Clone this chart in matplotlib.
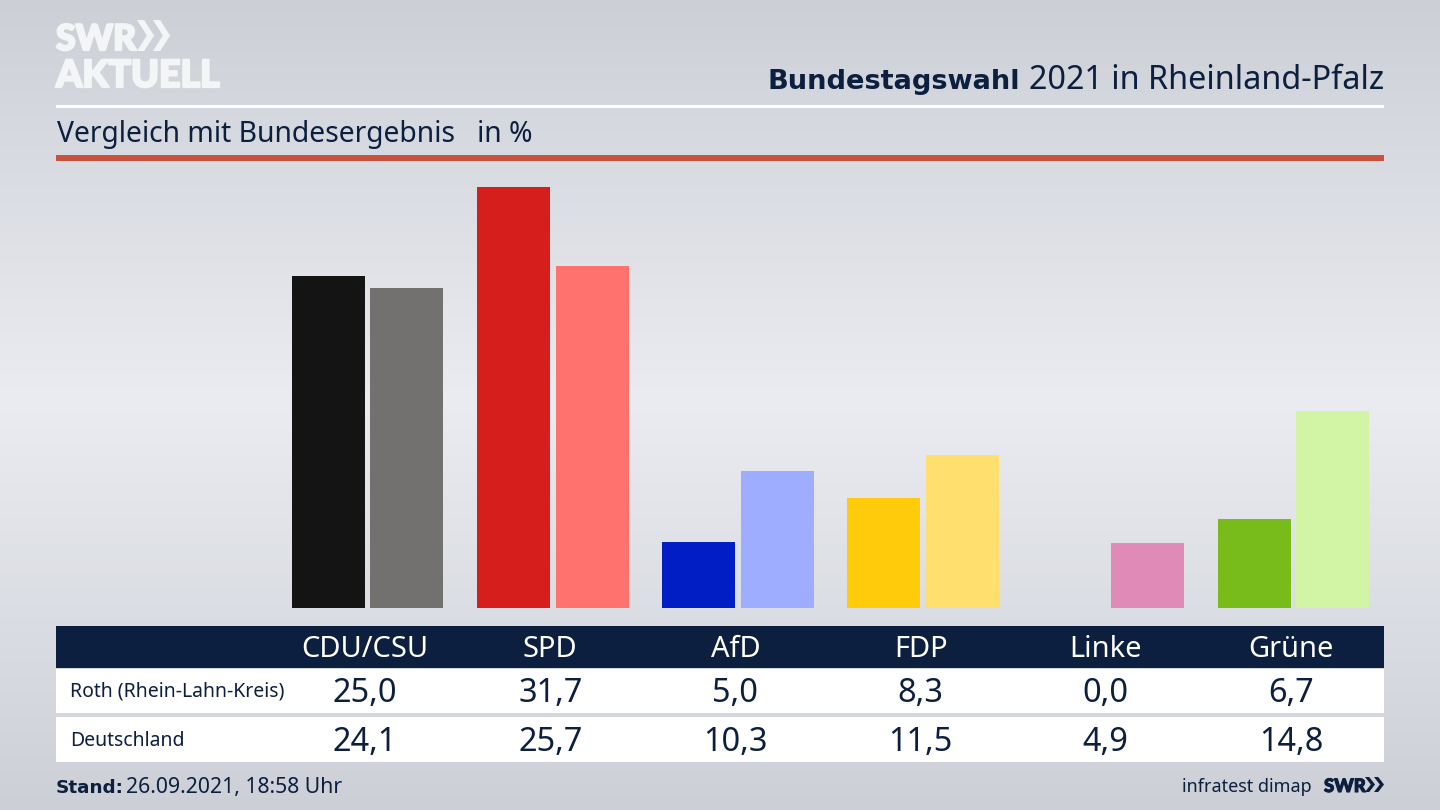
import matplotlib
matplotlib.use('Agg')
import matplotlib.pyplot as plt
import matplotlib.patheffects as pe
import numpy as np
from matplotlib.patches import Polygon, Rectangle

plt.rcParams['font.family'] = ['Noto Sans', 'DejaVu Sans']

parties = ['CDU/CSU', 'SPD', 'AfD', 'FDP', 'Linke', 'Grüne']
roth = [25.0, 31.7, 5.0, 8.3, 0.0, 6.7]
deutschland = [24.1, 25.7, 10.3, 11.5, 4.9, 14.8]
colors_roth = ['#141414', '#d61e1c', '#001ec3', '#ffcb0b', '#c9438f', '#78bc1b']
colors_de = ['#72716f', '#ff726e', '#9eadff', '#ffe06e', '#e08ab8', '#d2f5a5']
row_labels = ['Roth (Rhein-Lahn-Kreis)', 'Deutschland']

NAVY = '#0c1f3f'
LOGO = '#f4f5f7'
W, H = 1440, 810

fig = plt.figure(figsize=(W / 100, H / 100), dpi=100)

# background gradient
bg = fig.add_axes([0, 0, 1, 1], zorder=0)
shade = np.interp(np.arange(H), [0, 400, 810], [0, 1, 0])
top, mid = np.array([0.80, 0.815, 0.84]), np.array([0.92, 0.925, 0.945])
bg.imshow((top + (mid - top) * shade[:, None])[:, None, :], aspect='auto',
          extent=(0, W, H, 0))
bg.set_xlim(0, W)
bg.set_ylim(H, 0)
bg.axis('off')

# bars, one group is 185.2 px wide
ax = fig.add_axes([274.9 / W, (H - 608) / H, 1111.2 / W, 440 / H], zorder=1)
x = np.arange(len(parties))
ax.bar(x - 0.213, roth, width=0.394, color=colors_roth)
ax.bar(x + 0.213, deutschland, width=0.394, color=colors_de)
ax.set_xlim(-0.5, 5.5)
ax.set_ylim(0, 440 / 13.29)
ax.axis('off')

# everything else in pixel coordinates
ov = fig.add_axes([0, 0, 1, 1], zorder=2)
ov.set_xlim(0, W)
ov.set_ylim(H, 0)
ov.axis('off')
ov.patch.set_alpha(0)


def px(size):
    return size * 0.72


def rect(x0, y0, x1, y1, color):
    ov.add_patch(Rectangle((x0, y0), x1 - x0, y1 - y0, color=color, lw=0))


def chevron(x0, y0, w, h, color):
    # one arrow of the SWR logo
    thick = w * 0.42
    ov.add_patch(Polygon([(x0, y0), (x0 + thick, y0), (x0 + w, y0 + h / 2),
                          (x0 + thick, y0 + h), (x0, y0 + h),
                          (x0 + w - thick, y0 + h / 2)], color=color, lw=0))


rect(56, 104.5, 1384, 107.5, 'white')
rect(56, 155, 1384, 160.5, '#c9523f')
rect(56, 626, 1384, 668, NAVY)
rect(56, 669, 1384, 713, 'white')
rect(56, 717, 1384, 762, 'white')

# logo
thicker = [pe.withStroke(linewidth=1.6, foreground=LOGO)]
ov.text(56, 50, 'SWR', color=LOGO, fontsize=px(35.5), fontweight='black',
        family='Lato', va='baseline', path_effects=thicker)
chevron(137, 20, 17, 31, LOGO)
chevron(153, 20, 17, 31, LOGO)
ov.text(56, 87, 'AKTUELL', color=LOGO, fontsize=px(37.5), fontweight='black',
        family='Lato', va='baseline', path_effects=thicker)

# header
ov.text(1384, 89, '2021 in Rheinland-Pfalz', color=NAVY, fontsize=px(32.4),
        ha='right', va='baseline')
ov.text(1020, 89, 'Bundestagswahl', color=NAVY, fontsize=px(27.2),
        fontweight='bold', family='DejaVu Sans', ha='right', va='baseline')
ov.text(57, 142, 'Vergleich mit Bundesergebnis', color=NAVY, fontsize=px(28.3),
        va='baseline')
ov.text(477, 142, 'in %', color=NAVY, fontsize=px(28.3), va='baseline')

# table
centers = 365 + x * 185.2
for cx, party, a, b in zip(centers, parties, roth, deutschland):
    ov.text(cx, 657, party, color='white', fontsize=px(29), ha='center', va='baseline')
    ov.text(cx, 702, f'{a:.1f}'.replace('.', ','), color=NAVY, fontsize=px(32.5),
            ha='center', va='baseline')
    ov.text(cx, 751, f'{b:.1f}'.replace('.', ','), color=NAVY, fontsize=px(32.5),
            ha='center', va='baseline')
ov.text(70, 697, row_labels[0], color=NAVY, fontsize=px(19.4), va='baseline')
ov.text(70, 746, row_labels[1], color=NAVY, fontsize=px(19.4), va='baseline')

# footer
ov.text(56, 793, 'Stand:', color=NAVY, fontsize=px(18.4), fontweight='bold',
        family='DejaVu Sans', va='baseline')
ov.text(126, 793, '26.09.2021, 18:58 Uhr', color=NAVY, fontsize=px(21.2), va='baseline')
ov.text(1312, 792, 'infratest dimap', color=NAVY, fontsize=px(18), ha='right',
        va='baseline')
ov.text(1324, 792, 'SWR', color=NAVY, fontsize=px(18.5), fontweight='black',
        family='Lato', va='baseline',
        path_effects=[pe.withStroke(linewidth=0.8, foreground=NAVY)])
chevron(1365, 777, 10, 15, NAVY)
chevron(1374, 777, 10, 15, NAVY)

fig.savefig('out.png', dpi=100)
